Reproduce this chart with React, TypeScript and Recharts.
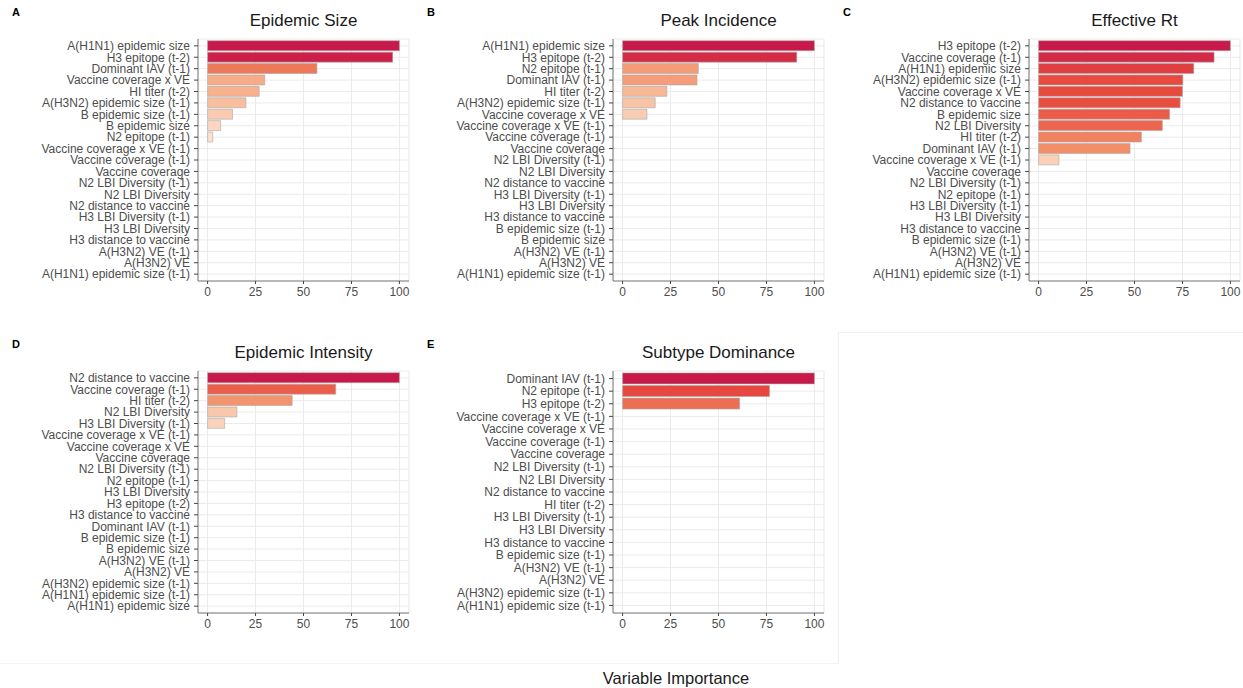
import React from "react";
import {
  BarChart,
  Bar,
  Cell,
  XAxis,
  YAxis,
  CartesianGrid,
} from "recharts";

// panel A: epidemic size
const sizeLabels = [
  "A(H1N1) epidemic size",
  "H3 epitope (t-2)",
  "Dominant IAV (t-1)",
  "Vaccine coverage x VE",
  "HI titer (t-2)",
  "A(H3N2) epidemic size (t-1)",
  "B epidemic size (t-1)",
  "B epidemic size",
  "N2 epitope (t-1)",
  "Vaccine coverage x VE (t-1)",
  "Vaccine coverage (t-1)",
  "Vaccine coverage",
  "N2 LBI Diversity (t-1)",
  "N2 LBI Diversity",
  "N2 distance to vaccine",
  "H3 LBI Diversity (t-1)",
  "H3 LBI Diversity",
  "H3 distance to vaccine",
  "A(H3N2) VE (t-1)",
  "A(H3N2) VE",
  "A(H1N1) epidemic size (t-1)",
];
const sizeValues = [100, 96.5, 57, 29.8, 26.9, 20, 13, 6.8, 2.7, 0, 0, 0, 0, 0, 0, 0, 0, 0, 0, 0, 0];

// panel B: peak incidence
const peakLabels = [
  "A(H1N1) epidemic size",
  "H3 epitope (t-2)",
  "N2 epitope (t-1)",
  "Dominant IAV (t-1)",
  "HI titer (t-2)",
  "A(H3N2) epidemic size (t-1)",
  "Vaccine coverage x VE",
  "Vaccine coverage x VE (t-1)",
  "Vaccine coverage (t-1)",
  "Vaccine coverage",
  "N2 LBI Diversity (t-1)",
  "N2 LBI Diversity",
  "N2 distance to vaccine",
  "H3 LBI Diversity (t-1)",
  "H3 LBI Diversity",
  "H3 distance to vaccine",
  "B epidemic size (t-1)",
  "B epidemic size",
  "A(H3N2) VE (t-1)",
  "A(H3N2) VE",
  "A(H1N1) epidemic size (t-1)",
];
const peakValues = [100, 90.8, 39.5, 38.8, 23.1, 17, 12.7, 0, 0, 0, 0, 0, 0, 0, 0, 0, 0, 0, 0, 0, 0];

// panel C: effective Rt
const rtLabels = [
  "H3 epitope (t-2)",
  "Vaccine coverage (t-1)",
  "A(H1N1) epidemic size",
  "A(H3N2) epidemic size (t-1)",
  "Vaccine coverage x VE",
  "N2 distance to vaccine",
  "B epidemic size",
  "N2 LBI Diversity",
  "HI titer (t-2)",
  "Dominant IAV (t-1)",
  "Vaccine coverage x VE (t-1)",
  "Vaccine coverage",
  "N2 LBI Diversity (t-1)",
  "N2 epitope (t-1)",
  "H3 LBI Diversity (t-1)",
  "H3 LBI Diversity",
  "H3 distance to vaccine",
  "B epidemic size (t-1)",
  "A(H3N2) VE (t-1)",
  "A(H3N2) VE",
  "A(H1N1) epidemic size (t-1)",
];
const rtValues = [100, 91.5, 80.9, 75.2, 75, 73.8, 68.3, 64.5, 53.6, 47.7, 10.6, 0, 0, 0, 0, 0, 0, 0, 0, 0, 0];

// panel D: epidemic intensity
const intensityLabels = [
  "N2 distance to vaccine",
  "Vaccine coverage (t-1)",
  "HI titer (t-2)",
  "N2 LBI Diversity",
  "H3 LBI Diversity (t-1)",
  "Vaccine coverage x VE (t-1)",
  "Vaccine coverage x VE",
  "Vaccine coverage",
  "N2 LBI Diversity (t-1)",
  "N2 epitope (t-1)",
  "H3 LBI Diversity",
  "H3 epitope (t-2)",
  "H3 distance to vaccine",
  "Dominant IAV (t-1)",
  "B epidemic size (t-1)",
  "B epidemic size",
  "A(H3N2) VE (t-1)",
  "A(H3N2) VE",
  "A(H3N2) epidemic size (t-1)",
  "A(H1N1) epidemic size (t-1)",
  "A(H1N1) epidemic size",
];
const intensityValues = [100, 66.8, 44.1, 15.3, 8.9, 0, 0, 0, 0, 0, 0, 0, 0, 0, 0, 0, 0, 0, 0, 0, 0];

// panel E: subtype dominance
const dominanceLabels = [
  "Dominant IAV (t-1)",
  "N2 epitope (t-1)",
  "H3 epitope (t-2)",
  "Vaccine coverage x VE (t-1)",
  "Vaccine coverage x VE",
  "Vaccine coverage (t-1)",
  "Vaccine coverage",
  "N2 LBI Diversity (t-1)",
  "N2 LBI Diversity",
  "N2 distance to vaccine",
  "HI titer (t-2)",
  "H3 LBI Diversity (t-1)",
  "H3 LBI Diversity",
  "H3 distance to vaccine",
  "B epidemic size (t-1)",
  "A(H3N2) VE (t-1)",
  "A(H3N2) VE",
  "A(H3N2) epidemic size (t-1)",
  "A(H1N1) epidemic size (t-1)",
];
const dominanceValues = [100, 76.6, 61, 0, 0, 0, 0, 0, 0, 0, 0, 0, 0, 0, 0, 0, 0, 0, 0];

const xTicks = [0, 25, 50, 75, 100];
const minorTicks = [12.5, 37.5, 62.5, 87.5];

const FONT = '"Liberation Sans", Arial, Helvetica, sans-serif';
const PLOT_W = 211;
const PLOT_H = 242;
const Y_W = 198;
const X_H = 24;
const M = 2;
const BORDER = "#7a7a7a";
const TICK = "#444";

// fill gradient, light peach -> crimson
const colorStops: [number, number[]][] = [
  [0, [253, 228, 212]],
  [25, [247, 180, 144]],
  [50, [241, 139, 100]],
  [75, [232, 74, 62]],
  [100, [200, 25, 75]],
];

function fillFor(v: number) {
  for (let i = 1; i < colorStops.length; i++) {
    const [v1, c1] = colorStops[i];
    const [v0, c0] = colorStops[i - 1];
    if (v <= v1) {
      const t = (v - v0) / (v1 - v0);
      const c = c0.map((x, k) => Math.round(x + (c1[k] - x) * t));
      return `rgb(${c[0]},${c[1]},${c[2]})`;
    }
  }
  return "rgb(200,25,75)";
}

type PanelProps = {
  letter: string;
  title: string;
  labels: string[];
  values: number[];
  plotLeft: number;
  plotTop: number;
};

function Panel({ letter, title, labels, values, plotLeft, plotTop }: PanelProps) {
  const data = labels.map((name, i) => ({ name, value: values[i] }));
  const pad = (0.1 * PLOT_H) / (labels.length + 0.2);
  const tickStyle = { fontSize: 12, fill: "#4d4d4d", fontFamily: FONT };

  return (
    <>
      <div
        style={{
          position: "absolute",
          left: plotLeft - Y_W + 12,
          top: plotTop - 33,
          fontSize: 11,
          fontWeight: "bold",
          fontFamily: FONT,
          color: "#000",
        }}
      >
        {letter}
      </div>
      <div
        style={{
          position: "absolute",
          left: plotLeft,
          width: PLOT_W,
          top: plotTop - 28,
          textAlign: "center",
          fontSize: 17,
          fontFamily: FONT,
          color: "#1a1a1a",
          whiteSpace: "nowrap",
        }}
      >
        {title}
      </div>
      <div style={{ position: "absolute", left: plotLeft - Y_W, top: plotTop - M }}>
        <BarChart
          width={Y_W + PLOT_W + M}
          height={PLOT_H + X_H + M}
          data={data}
          layout="vertical"
          margin={{ top: M, right: M, bottom: 0, left: 0 }}
          barCategoryGap="5%"
        >
          <CartesianGrid xAxisId="minor" horizontal={false} stroke="#f4f4f4" strokeWidth={0.7} />
          <CartesianGrid stroke="#ebebeb" strokeWidth={1} />
          <XAxis
            xAxisId="minor"
            type="number"
            domain={[-5, 105]}
            ticks={minorTicks}
            hide
          />
          <XAxis
            type="number"
            domain={[-5, 105]}
            ticks={xTicks}
            height={X_H}
            tick={tickStyle}
            tickSize={3}
            tickMargin={3}
            tickLine={{ stroke: TICK }}
            axisLine={{ stroke: BORDER }}
          />
          <XAxis
            xAxisId="top"
            orientation="top"
            type="number"
            domain={[-5, 105]}
            height={0}
            tick={false}
            tickLine={false}
            axisLine={{ stroke: BORDER }}
          />
          <YAxis
            type="category"
            dataKey="name"
            width={Y_W}
            interval={0}
            padding={{ top: pad, bottom: pad }}
            tick={tickStyle}
            tickSize={4}
            tickMargin={4}
            tickLine={{ stroke: TICK }}
            axisLine={{ stroke: BORDER }}
          />
          <YAxis
            yAxisId="right"
            orientation="right"
            type="category"
            dataKey="name"
            width={0}
            tick={false}
            tickLine={false}
            axisLine={{ stroke: BORDER }}
          />
          <Bar dataKey="value" isAnimationActive={false} stroke="#a9a9a9" strokeWidth={0.6}>
            {data.map((d) => (
              <Cell key={d.name} fill={fillFor(d.value)} />
            ))}
          </Bar>
        </BarChart>
      </div>
    </>
  );
}

export default function App() {
  return (
    <div
      style={{
        position: "absolute",
        left: 0,
        top: 0,
        width: 1243,
        height: 688,
        background: "#fff",
        overflow: "hidden",
        fontFamily: FONT,
      }}
    >
      {/* faint frame of the empty cell */}
      <div style={{ position: "absolute", left: 838, top: 332, width: 405, height: 331, borderLeft: "1px solid #f0f0f0", borderTop: "1px solid #f0f0f0" }} />
      <div style={{ position: "absolute", left: 0, top: 663, width: 838, borderTop: "1px solid #f4f4f4" }} />

      <Panel letter="A" title="Epidemic Size" labels={sizeLabels} values={sizeValues} plotLeft={198} plotTop={39} />
      <Panel letter="B" title="Peak Incidence" labels={peakLabels} values={peakValues} plotLeft={613} plotTop={39} />
      <Panel letter="C" title="Effective Rt" labels={rtLabels} values={rtValues} plotLeft={1029} plotTop={39} />
      <Panel letter="D" title="Epidemic Intensity" labels={intensityLabels} values={intensityValues} plotLeft={198} plotTop={371} />
      <Panel letter="E" title="Subtype Dominance" labels={dominanceLabels} values={dominanceValues} plotLeft={613} plotTop={371} />

      <div
        style={{
          position: "absolute",
          left: 0,
          width: 1352,
          top: 669,
          textAlign: "center",
          fontSize: 16.5,
          color: "#1a1a1a",
          whiteSpace: "nowrap",
        }}
      >
        Variable Importance
      </div>
    </div>
  );
}
